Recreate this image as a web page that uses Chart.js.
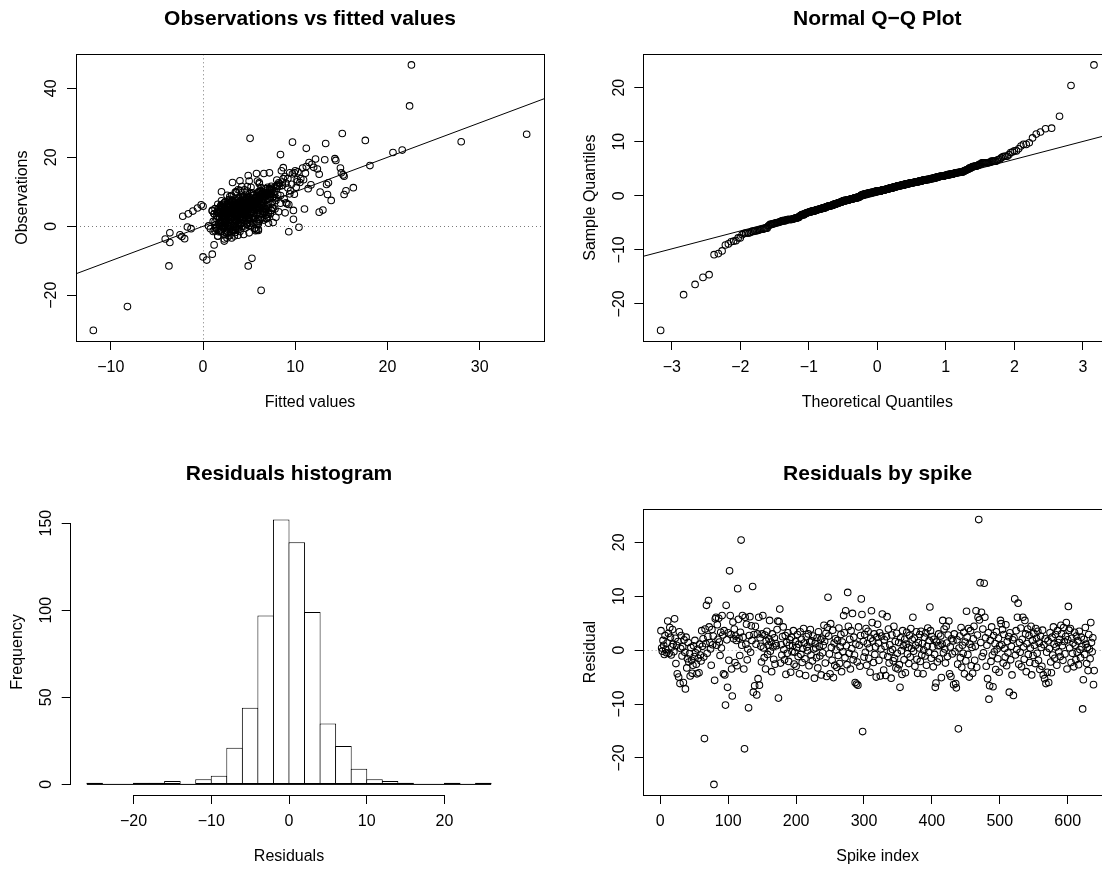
<!DOCTYPE html>
<html><head><meta charset="utf-8">
<script src="https://cdn.jsdelivr.net/npm/chart.js@4.4.1/dist/chart.umd.min.js"></script>
<style>
html,body{margin:0;padding:0;background:#fff;overflow:hidden;width:1102px;height:870px;}
#wrap{position:relative;width:1102px;height:870px;overflow:hidden;background:#fff;}
canvas{position:absolute;}
</style></head><body><div id="wrap">
<canvas id="c1" width="551" height="435" style="left:0px;top:0px"></canvas>
<canvas id="c2" width="600" height="435" style="left:551px;top:0px"></canvas>
<canvas id="c3" width="551" height="435" style="left:0px;top:435px"></canvas>
<canvas id="c4" width="600" height="435" style="left:551px;top:435px"></canvas>
</div>
<script>
// ---- data ----
// residual of each spike, in spike-index order (panel "Residuals by spike")
const residuals = [
3.6,0.4,-0.2,1.8,0.9,-0.8,2.7,0.1,-0.5,1.3,
5.4,3.1,-0.6,4.2,2.4,-0.9,0.6,3.8,1.1,-0.3,
5.8,2.2,-2.5,0.9,-4.4,1.6,-5.0,3.4,-6.2,0.3,
2.7,-1.1,0.6,-6.0,1.9,-0.4,-7.2,2.4,-3.3,-1.6,
1.4,-2.2,-0.7,-4.8,0.5,-1.9,-4.3,-2.8,0.8,-1.2,
1.8,-0.5,-2.6,-4.4,0.2,-1.5,-4.2,1.1,-0.9,-2.0,
3.6,0.7,2.1,-1.3,-16.4,3.9,1.2,8.3,-0.6,2.5,
9.2,4.3,1.4,0.2,-2.8,3.8,1.0,2.6,-24.9,-5.6,
5.8,6.1,0.9,4.7,2.0,5.9,1.5,-1.0,3.3,0.4,
6.4,2.8,-4.4,3.6,-4.6,-10.2,8.3,1.9,-6.9,3.2,
-1.9,14.7,6.4,2.9,-3.5,-8.5,5.2,2.1,3.9,-2.3,
2.6,1.8,-2.9,11.4,5.7,2.2,-1.0,3.3,20.4,0.9,
6.4,2.4,-3.5,-18.3,6.1,1.1,4.8,-1.8,0.2,-10.7,
2.7,6.2,-0.4,4.5,1.8,11.8,-7.8,2.9,-6.6,4.4,
1.1,-8.3,3.0,-5.3,6.1,-6.5,2.3,0.7,-2.2,3.0,
6.4,0.4,-1.4,2.8,-3.5,1.7,3.5,-0.8,0.9,2.1,
5.5,-0.2,1.5,-4.0,3.0,0.6,-1.7,2.3,-2.6,1.2,
0.8,3.8,5.4,-8.9,5.3,7.6,-2.4,1.0,-0.9,2.5,
4.3,0.1,-1.8,2.7,-4.5,1.4,-0.6,3.2,-2.1,0.9,
1.9,-4.1,2.4,-0.3,0.8,3.6,-2.6,-0.4,1.6,-3.0,
0.5,2.9,-1.2,1.1,-4.4,3.4,-0.8,2.0,-2.3,0.3,
4.0,1.3,-1.6,-4.7,2.5,0.6,-0.1,3.0,-2.9,1.5,
3.8,-0.9,1.7,-2.0,2.6,0.2,-5.2,1.2,0.4,-1.4,
2.3,-3.3,3.4,0.7,-1.1,1.9,-4.6,2.2,-0.5,0.9,
4.6,1.6,-2.4,3.1,-4.9,4.2,9.8,2.6,-0.7,-4.4,
4.9,0.5,-1.9,3.7,-5.1,1.3,-2.8,2.1,0.0,-3.2,
1.8,-1.0,4.1,-2.5,0.6,2.9,-4.0,1.5,-0.3,6.4,
3.2,-1.4,7.3,0.8,-2.7,10.7,4.4,-0.6,2.0,-3.5,
3.6,0.3,6.8,-1.8,2.4,-0.9,-6.0,1.1,-6.3,-2.2,
-6.5,4.3,0.9,-3.0,2.7,9.5,6.6,-15.1,1.6,-1.3,
2.9,-0.4,4.0,-2.8,1.2,3.5,-1.5,0.4,-4.1,2.2,
7.3,5.1,1.7,-2.3,3.0,-0.8,0.6,-5.0,2.4,4.8,
1.3,-1.9,3.2,-4.8,0.2,2.6,6.7,-0.9,-3.7,1.9,
0.7,-4.7,2.5,6.2,-1.2,3.9,-2.4,1.0,-0.3,-5.2,
2.8,0.1,-2.0,4.4,-1.5,1.6,-3.3,3.1,-0.6,-3.5,
1.4,-2.7,-6.9,2.3,-0.1,-4.5,3.6,0.8,-1.8,2.0,
-4.2,1.1,3.3,-0.7,0.5,-2.5,2.7,-1.3,4.0,0.3,
1.9,6.1,-0.2,2.2,-3.0,0.9,3.4,-1.7,-4.3,1.4,
0.4,2.9,-2.1,3.5,-0.9,1.2,-4.4,0.0,2.4,-1.1,
3.2,-2.8,0.7,4.1,-0.4,1.8,8.0,3.6,-1.5,2.5,
0.6,-3.1,2.0,-0.8,-6.9,-6.1,1.5,-2.2,0.8,3.0,
-1.6,0.8,2.6,-5.1,1.1,5.5,-0.5,3.9,0.2,-2.4,
4.4,1.3,-1.2,2.8,5.4,-4.4,0.6,-4.9,2.1,-0.7,
1.7,-6.4,3.0,-0.3,-6.2,-7.0,1.9,-2.6,-14.6,0.4,
2.6,-1.4,4.2,-3.2,0.9,-0.6,3.3,-4.4,1.5,-2.0,
7.2,2.4,-0.8,4.0,-5.0,1.1,3.6,-2.9,0.5,-4.3,
2.1,4.4,-1.9,0.7,7.3,-3.2,2.8,6.1,24.2,5.6,
12.5,1.4,7.0,-1.2,3.9,-0.5,12.4,6.1,2.3,-3.0,
0.9,-5.3,3.2,-9.1,-6.6,1.8,-2.1,4.3,-0.9,-6.8,
2.7,-0.3,1.2,-3.6,3.4,0.2,-1.6,2.2,-4.1,0.8,
5.5,4.9,1.0,3.8,-2.4,2.9,0.3,-1.3,4.7,-2.9,
1.6,-0.5,2.5,-7.8,3.2,-1.8,0.7,-4.6,1.9,-8.4,
2.3,9.5,-0.9,3.6,0.1,6.1,8.7,-2.6,1.4,-0.4,
4.1,-3.1,2.0,6.1,0.6,-1.7,5.5,3.0,-4.0,1.2,
3.9,-0.8,2.7,-2.3,0.4,4.4,-4.6,1.8,-1.0,3.1,
0.9,-2.5,4.0,2.2,-0.6,3.5,-1.9,1.3,-3.6,2.6,
0.5,-3.0,3.7,-4.6,1.0,-5.3,2.1,-6.2,-0.4,-4.1,
1.7,-6.0,0.3,3.2,-2.2,-4.2,2.4,-0.9,4.3,1.1,
-1.5,2.9,0.6,-2.8,3.6,1.4,-0.3,2.0,-1.2,4.6,
3.0,0.8,-1.9,4.2,1.6,-0.7,2.5,5.1,-3.5,1.9,
8.1,3.7,0.4,4.0,-2.3,2.2,-0.6,1.3,-3.1,3.3,
0.9,-1.8,2.6,-0.4,1.7,-2.7,3.5,0.1,-1.4,2.4,
0.6,-10.9,-5.5,2.0,-0.8,4.2,1.1,-2.5,0.5,-3.8,
2.9,0.2,-1.6,5.1,1.4,-0.3,2.3,-6.4,-3.8
];
// fitted value of each spike, same order (panel "Observations vs fitted values", x)
const fittedValues = [
3.4,-4.1,2.1,5.6,1.8,4.3,6.9,2.7,0.6,3.9,
4.8,2.4,7.5,3.1,1.2,5.2,-1.3,3.6,8.1,2.9,
0.0,4.6,1.5,6.3,3.3,2.0,5.9,4.0,7.1,1.1,
3.7,-3.6,5.4,2.6,9.2,4.4,6.0,1.7,3.0,-2.0,
4.9,2.2,-2.3,6.6,3.5,1.4,5.1,7.8,2.8,4.2,
1.9,3.8,6.2,2.5,5.5,0.8,4.7,3.2,8.8,2.3,
5.0,3.4,1.6,6.5,4.9,2.7,10.1,7.2,3.9,4.5,
4.0,2.1,5.8,3.6,7.4,1.3,4.8,9.6,6.3,2.9,
3.1,11.2,5.3,2.4,6.8,-0.6,4.1,7.0,1.7,3.7,
2.6,5.7,4.4,1.0,6.1,0.4,8.7,3.3,5.0,2.2,
4.6,9.7,3.5,6.4,2.0,12.6,-1.6,5.2,3.0,7.6,
1.5,4.3,6.7,11.2,2.9,5.6,3.8,8.3,5.1,2.5,
4.0,6.9,1.9,-11.9,3.6,7.3,2.8,5.5,4.2,10.4,
3.2,11.8,5.9,2.3,6.2,15.1,-3.7,4.7,1.2,3.9,
5.4,13.0,2.7,7.9,4.5,3.1,6.0,1.8,9.0,4.0,
-0.2,5.3,3.4,6.6,2.4,-3.6,4.8,7.1,3.0,5.7,
-1.1,4.1,-1.7,6.4,2.6,5.0,8.4,3.7,1.3,4.6,
3.3,6.2,2.0,0.0,14.3,8.5,4.9,2.8,5.8,3.5,
7.0,2.2,4.4,5.9,1.6,3.9,6.5,10.6,4.2,2.6,
5.1,3.6,7.7,15.2,2.9,4.7,1.1,6.3,3.2,9.3,
21.6,4.5,2.3,5.6,3.8,7.2,15.3,14.9,2.7,4.9,
1.9,5.3,3.5,6.9,12.6,2.4,4.6,8.0,3.1,5.5,
2.8,6.1,4.0,1.4,5.7,3.3,9.8,2.1,4.8,6.7,
3.9,1.7,5.0,7.5,2.5,4.3,3.0,6.2,11.4,2.0,
4.7,3.4,6.8,2.3,5.2,8.6,4.9,1.6,3.7,5.8,
2.9,15.0,4.4,6.0,16.3,3.1,7.4,2.2,-2.5,4.1,
5.5,13.6,3.2,6.6,1.5,4.5,8.2,2.7,5.1,3.6,
6.4,2.4,4.2,9.5,3.4,13.3,5.3,1.9,7.1,4.0,
2.6,5.9,3.8,6.9,1.2,4.6,11.0,3.0,5.6,2.1,
7.6,4.3,2.8,5.4,10.2,3.2,6.1,-8.2,4.8,13.4,
3.5,5.8,2.0,12.7,4.1,6.5,1.8,7.9,3.3,5.2,
17.6,-2.2,4.7,3.0,6.3,2.5,5.5,8.9,3.9,1.6,
4.4,6.8,2.9,5.0,3.6,10.9,4.8,1.4,7.3,3.1,
5.7,2.3,4.0,6.1,3.4,8.1,2.6,5.3,4.5,15.5,
1.9,6.6,3.7,5.1,2.4,7.7,4.2,3.0,9.9,28.0,
4.6,2.8,6.0,3.5,1.3,5.4,7.0,2.2,4.9,3.8,
6.2,3.1,4.3,1.7,8.4,5.0,2.7,6.9,3.9,11.7,
2.4,5.2,4.1,7.2,3.3,6.3,1.0,4.7,13.5,2.9,
5.6,3.4,7.5,2.1,4.8,6.0,3.2,9.4,1.8,5.1,
3.7,6.4,2.6,4.4,7.9,3.0,2.0,5.5,4.0,6.8,
2.3,4.9,6.7,3.6,5.8,15.3,1.5,4.2,20.6,3.3,
5.0,7.1,2.8,4.6,3.9,10.3,18.1,6.0,2.5,5.4,
3.5,6.5,4.1,1.9,8.0,2.7,5.2,3.8,7.4,4.5,
2.1,13.9,4.8,6.3,3.4,5.7,2.6,9.1,5.3,3.6,
6.1,4.0,2.2,5.5,7.6,3.2,4.7,1.6,6.4,3.9,
5.9,2.9,4.5,8.3,3.1,6.6,2.0,5.0,4.3,7.0,
3.6,5.3,1.8,6.8,12.2,4.1,2.7,10.8,22.6,9.9,
22.4,4.6,11.5,3.0,6.2,2.4,8.4,9.4,5.1,3.8,
5.7,3.5,7.3,1.0,2.3,4.9,6.5,3.2,5.6,4.4,
2.8,6.0,4.2,7.1,3.4,5.0,1.4,6.7,3.9,4.8,
8.9,6.3,2.6,4.5,5.8,3.3,7.7,2.1,14.4,5.2,
3.7,6.1,4.4,9.8,2.9,5.5,3.1,6.9,4.0,35.1,
2.5,5.8,4.7,7.4,3.6,10.0,6.6,2.2,5.3,4.1,
6.8,3.0,5.1,13.2,4.3,2.7,9.7,3.9,6.0,4.6,
3.2,5.7,2.4,6.5,4.0,8.2,3.5,5.0,1.9,7.5,
4.7,2.8,6.3,10.5,3.3,5.4,2.1,4.9,6.8,3.7,
5.2,3.9,7.2,2.6,4.4,6.0,1.7,5.6,3.1,4.8,
6.4,2.3,5.0,8.6,3.6,4.2,7.0,2.9,11.1,5.3,
3.4,6.2,4.6,2.0,7.8,5.1,3.8,6.6,2.5,9.2,
4.5,3.0,5.9,7.4,2.7,4.1,6.3,12.0,3.5,5.5,
5.0,8.0,3.2,6.1,2.4,4.7,5.8,3.6,7.1,10.2,
4.3,2.6,6.7,3.9,5.3,2.2,9.0,4.4,6.0,3.3,
5.1,9.3,4.0,7.3,2.8,12.4,3.7,6.2,4.5,2.9,
6.9,3.4,5.2,8.7,4.1,2.3,6.5,3.8,5.0
];
// histogram of residuals: bin edges and counts
const histBreaks = [-26,-24,-22,-20,-18,-16,-14,-12,-10,-8,-6,-4,-2,0,2,4,6,8,10,12,14,16,18,20,22,24,26];
const histCounts = [1,0,0,1,1,2,0,3,5,21,44,97,152,139,99,35,22,9,3,2,1,0,0,1,0,1];
// tick labels
const ticksFittedX = [-10,0,10,20,30];
const ticksObsY = [-20,0,20,40];
const ticksTheoX = [-3,-2,-1,0,1,2,3];
const ticksSampleY = [-20,-10,0,10,20];
const ticksResidX = [-20,-10,0,10,20];
const ticksFreqY = [0,50,100,150];
const ticksSpikeX = [0,100,200,300,400,500,600];
const ticksResidY = [-20,-10,0,10,20];
// reference lines
const ablineIntercept = 0, ablineSlope = 1;       // observations = fitted
const qqIntercept = 0.11, qqSlope = 3.31;          // qqline through the quartiles

// ---- helpers ----
const FONT = '"Liberation Sans", Arial, Helvetica, sans-serif';
function extend(lo, hi){ const d = (hi - lo) * 0.04; return [lo - d, hi + d]; }
function fmt(v){ return v < 0 ? '\u2212' + Math.abs(v) : String(v); }
function qnorm(p){
  const a=[-3.969683028665376e+01,2.209460984245205e+02,-2.759285104469687e+02,1.383577518672690e+02,-3.066479806614716e+01,2.506628277459239e+00];
  const b=[-5.447609879822406e+01,1.615858368580409e+02,-1.556989798598866e+02,6.680131188771972e+01,-1.328068155288572e+01];
  const c=[-7.784894002430293e-03,-3.223964580411365e-01,-2.400758277161838e+00,-2.549732539343734e+00,4.374664141464968e+00,2.938163982698783e+00];
  const d=[7.784695709041462e-03,3.224671290700398e-01,2.445134137142996e+00,3.754408661907416e+00];
  const pl = 0.02425;
  let q, r;
  if (p < pl) { q = Math.sqrt(-2*Math.log(p)); return (((((c[0]*q+c[1])*q+c[2])*q+c[3])*q+c[4])*q+c[5])/((((d[0]*q+d[1])*q+d[2])*q+d[3])*q+1); }
  if (p > 1-pl) { q = Math.sqrt(-2*Math.log(1-p)); return -(((((c[0]*q+c[1])*q+c[2])*q+c[3])*q+c[4])*q+c[5])/((((d[0]*q+d[1])*q+d[2])*q+d[3])*q+1); }
  q = p - 0.5; r = q*q;
  return (((((a[0]*r+a[1])*r+a[2])*r+a[3])*r+a[4])*r+a[5])*q/(((((b[0]*r+b[1])*r+b[2])*r+b[3])*r+b[4])*r+1);
}
const measureCtx = document.createElement('canvas').getContext('2d');
function widest(labels){ measureCtx.font = '16px ' + FONT; return Math.max(...labels.map(l => measureCtx.measureText(fmt(l)).width)); }

// ---- derived tables ----
const n = Math.min(residuals.length, fittedValues.length);
const observations = fittedValues.slice(0, n).map((f, i) => Math.round((f + residuals[i]) * 10) / 10);
const sortedRes = residuals.slice(0, n).sort((p, q) => p - q);
const theoQ = sortedRes.map((_, i) => qnorm((i + 0.5) / n));

// ---- style builders ----
const TICK_LEN = 9;
function xScale(lim, ticks, title, H, titlePadBottom){
  return {
    type: 'linear', position: 'bottom', min: lim[0], max: lim[1], offset: false,
    afterBuildTicks: s => { s.ticks = ticks.map(v => ({value: v})); },
    afterFit: s => { s.height = H; },
    ticks: {autoSkip: false, maxRotation: 0, minRotation: 0, padding: 8.1, color: '#000',
      font: {family: FONT, size: 16}, callback: v => fmt(v)},
    grid: {drawOnChartArea: false, drawTicks: true, tickLength: TICK_LEN, color: '#000', tickColor: '#000', lineWidth: 1, offset: false},
    border: {display: false},
    title: {display: true, text: title, color: '#000', font: {family: FONT, size: 16}, padding: {top: 0, bottom: titlePadBottom}}
  };
}
function yScale(lim, ticks, title, W, titlePadTop){
  const pad = 15 - widest(ticks) / 2;
  return {
    type: 'linear', position: 'left', min: lim[0], max: lim[1],
    afterBuildTicks: s => { s.ticks = ticks.map(v => ({value: v})); },
    afterFit: s => { s.width = W; },
    ticks: {autoSkip: false, minRotation: 90, maxRotation: 90, crossAlign: 'center', padding: pad, color: '#000',
      font: {family: FONT, size: 16}, callback: v => fmt(v)},
    grid: {drawOnChartArea: false, drawTicks: true, tickLength: TICK_LEN, color: '#000', tickColor: '#000', lineWidth: 1},
    border: {display: false},
    title: {display: true, text: title, color: '#000', font: {family: FONT, size: 16}, padding: {top: titlePadTop, bottom: 0}}
  };
}
function titleOpt(text, padTop, padBottom){
  return {display: true, text: text, fullSize: false, color: '#000',
    font: {family: FONT, size: 21, weight: 'bold'}, padding: {top: padTop, bottom: padBottom}};
}
const px = v => Math.round(v - 0.5) + 0.5;
const framePlugin = {
  id: 'frame',
  beforeDatasetsDraw(chart, args, o){
    const {ctx, chartArea: a, scales} = chart;
    ctx.save();
    ctx.lineWidth = 1; ctx.strokeStyle = o.refColor || '#888'; ctx.setLineDash([1, 3]);
    if (o.zeroX) { const x = px(scales.x.getPixelForValue(0)); ctx.beginPath(); ctx.moveTo(x, a.top); ctx.lineTo(x, a.bottom); ctx.stroke(); }
    if (o.zeroY) { const y = px(scales.y.getPixelForValue(0)); ctx.beginPath(); ctx.moveTo(a.left, y); ctx.lineTo(a.right, y); ctx.stroke(); }
    ctx.restore();
  },
  afterDatasetsDraw(chart, args, o){
    const {ctx, chartArea: a, scales} = chart;
    ctx.save();
    ctx.lineWidth = 1; ctx.strokeStyle = '#000'; ctx.setLineDash([]);
    if (o.box) {
      ctx.strokeRect(px(a.left), px(a.top), Math.round(a.right - a.left), Math.round(a.bottom - a.top));
    }
    if (o.axisSpan) {
      const xt = o.axisSpan.x, yt = o.axisSpan.y;
      const yb = px(a.bottom), xl = px(a.left);
      ctx.beginPath();
      ctx.moveTo(scales.x.getPixelForValue(xt[0]), yb); ctx.lineTo(scales.x.getPixelForValue(xt[xt.length-1]), yb);
      ctx.moveTo(xl, scales.y.getPixelForValue(yt[0])); ctx.lineTo(xl, scales.y.getPixelForValue(yt[yt.length-1]));
      ctx.stroke();
    }
    ctx.restore();
  }
};
const pointStyle = {showLine: false, pointRadius: 3.3, pointHoverRadius: 3.3, pointBorderWidth: 1.05,
  pointBorderColor: '#000', pointBackgroundColor: 'rgba(0,0,0,0)', borderColor: '#000', backgroundColor: 'rgba(0,0,0,0)'};
const lineStyle = {type: 'line', borderColor: '#000', borderWidth: 1, pointRadius: 0, fill: false, clip: 0, showLine: true};
const common = {responsive: false, animation: false, devicePixelRatio: 1, events: []};
Chart.defaults.font.family = FONT;

// ---- panel 1: observations vs fitted ----
const xl1 = extend(Math.min(...fittedValues), Math.max(...fittedValues));
const yl1 = extend(Math.min(...observations), Math.max(...observations));
new Chart(document.getElementById('c1'), {
  type: 'scatter',
  data: {datasets: [
    Object.assign({data: fittedValues.slice(0, n).map((f, i) => ({x: f, y: observations[i]}))}, pointStyle),
    Object.assign({data: xl1.map(x => ({x: x, y: ablineIntercept + ablineSlope * x}))}, lineStyle)
  ]},
  options: Object.assign({}, common, {
    layout: {padding: {left: 0, right: 7, top: 0, bottom: 0}, autoPadding: false},
    scales: {x: xScale(xl1, ticksFittedX, 'Fitted values', 94, 22.4), y: yScale(yl1, ticksObsY, 'Observations', 76, 13.4)},
    plugins: {legend: {display: false}, tooltip: {enabled: false},
      title: titleOpt('Observations vs fitted values', 6.9, 22.2),
      frame: {box: true, zeroX: true, zeroY: true, refColor: '#7a7a7a'}}
  }),
  plugins: [framePlugin]
});

// ---- panel 2: normal Q-Q ----
const xl2 = extend(theoQ[0], theoQ[n-1]);
const yl2 = extend(sortedRes[0], sortedRes[n-1]);
new Chart(document.getElementById('c2'), {
  type: 'scatter',
  data: {datasets: [
    Object.assign({data: theoQ.map((t, i) => ({x: t, y: sortedRes[i]}))}, pointStyle),
    Object.assign({data: xl2.map(x => ({x: x, y: qqIntercept + qqSlope * x}))}, lineStyle)
  ]},
  options: Object.assign({}, common, {
    layout: {padding: {left: 0, right: 39.7, top: 0, bottom: 0}, autoPadding: false},
    scales: {x: xScale(xl2, ticksTheoX, 'Theoretical Quantiles', 94, 22.4), y: yScale(yl2, ticksSampleY, 'Sample Quantiles', 92.3, 29.7)},
    plugins: {legend: {display: false}, tooltip: {enabled: false},
      title: titleOpt('Normal Q\u2212Q Plot', 6.9, 22.2),
      frame: {box: true}}
  }),
  plugins: [framePlugin]
});

// ---- panel 3: residuals histogram ----
const xl3 = extend(histBreaks[0], histBreaks[histBreaks.length-1]);
const yl3 = extend(0, Math.max(...histCounts));
new Chart(document.getElementById('c3'), {
  type: 'bar',
  data: {datasets: [
    {type: 'bar', data: histCounts.map((c, i) => ({x: (histBreaks[i] + histBreaks[i+1]) / 2, y: c})),
      backgroundColor: '#fff', borderColor: '#000', borderWidth: 1, borderSkipped: false,
      barPercentage: 1.0643, categoryPercentage: 1, inflateAmount: 0, grouped: false},
    Object.assign({data: [{x: histBreaks[0], y: 0}, {x: histBreaks[histBreaks.length-1], y: 0}]}, lineStyle)
  ]},
  options: Object.assign({}, common, {
    layout: {padding: {left: 0, right: 43.7, top: 0, bottom: 0}, autoPadding: false},
    scales: {x: xScale(xl3, ticksResidX, 'Residuals', 75, 3.4), y: yScale(yl3, ticksFreqY, 'Frequency', 70.7, 8.1)},
    plugins: {legend: {display: false}, tooltip: {enabled: false},
      title: titleOpt('Residuals histogram', 26.6, 22.2),
      frame: {axisSpan: {x: ticksResidX, y: ticksFreqY}}}
  }),
  plugins: [framePlugin]
});

// ---- panel 4: residuals by spike ----
const spikeIndex = residuals.slice(0, n).map((_, i) => i + 1);
const xl4 = extend(1, n);
const yl4 = extend(sortedRes[0], sortedRes[n-1]);
new Chart(document.getElementById('c4'), {
  type: 'scatter',
  data: {datasets: [
    Object.assign({data: spikeIndex.map((k, i) => ({x: k, y: residuals[i]}))}, pointStyle)
  ]},
  options: Object.assign({}, common, {
    layout: {padding: {left: 0, right: 39.5, top: 0, bottom: 0}, autoPadding: false},
    scales: {x: xScale(xl4, ticksSpikeX, 'Spike index', 75, 3.4), y: yScale(yl4, ticksResidY, 'Residual', 92.65, 30.05)},
    plugins: {legend: {display: false}, tooltip: {enabled: false},
      title: titleOpt('Residuals by spike', 26.6, 22.2),
      frame: {box: true, zeroY: true, refColor: '#999'}}
  }),
  plugins: [framePlugin]
});
</script></body></html>
